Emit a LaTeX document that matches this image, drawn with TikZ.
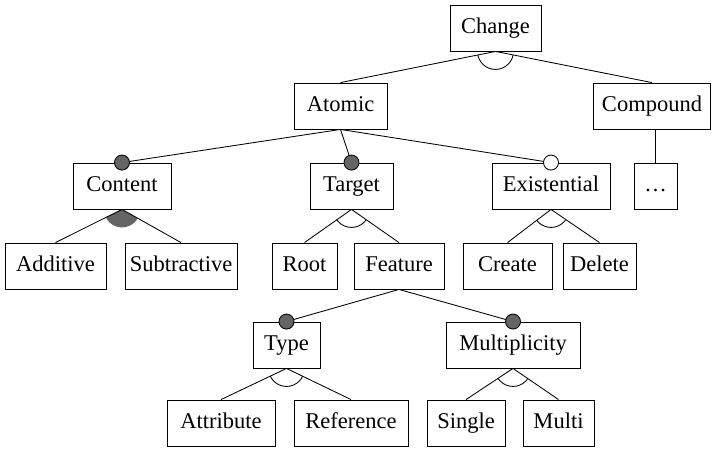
\documentclass[tikz,border=0pt]{standalone}
\usepackage{fontspec}
\setmainfont{Liberation Serif}
\definecolor{darkfill}{RGB}{100,100,100}
\begin{document}
\begin{tikzpicture}[x=1pt,y=-1pt,
  feat/.style={draw, line width=0.85pt, minimum height=46pt, inner sep=0pt, text height=15pt, text depth=5pt, font=\fontsize{22.5}{26}\selectfont},
  conn/.style={line width=0.85pt},
  mand/.style={draw, line width=0.85pt, fill=darkfill, circle, inner sep=0pt, minimum size=15pt},
  opt/.style={draw, line width=0.85pt, fill=white, circle, inner sep=0pt, minimum size=15pt}]
\useasboundingbox (0,0) rectangle (713,450);
% nodes
\node[feat, minimum width=91pt] (change) at (495.5,28) {Change};
\node[feat, minimum width=93pt] (atomic) at (340.5,106) {Atomic};
\node[feat, minimum width=117pt] (compound) at (652,106) {Compound};
\node[feat, minimum width=98pt] (content) at (122,186) {Content};
\node[feat, minimum width=83pt] (target) at (351.5,186) {Target};
\node[feat, minimum width=118pt] (exist) at (551,186) {Existential};
\node[feat, minimum width=43pt] (dots) at (655.5,186) {\dots};
\node[feat, minimum width=101pt] (additive) at (55.5,266) {Additive};
\node[feat, minimum width=112pt] (subtr) at (181,266) {Subtractive};
\node[feat, minimum width=65pt] (root) at (304.5,266) {Root};
\node[feat, minimum width=90pt] (feature) at (399,266) {Feature};
\node[feat, minimum width=89pt] (create) at (507.5,266) {Create};
\node[feat, minimum width=73pt] (delete) at (599.5,266) {Delete};
\node[feat, minimum width=67pt] (type) at (286.5,345) {Type};
\node[feat, minimum width=134pt] (mult) at (513,345) {Multiplicity};
\node[feat, minimum width=108pt] (attr) at (221,423) {Attribute};
\node[feat, minimum width=114pt] (ref) at (351,423) {Reference};
\node[feat, minimum width=78pt] (single) at (466,423) {Single};
\node[feat, minimum width=71pt] (multi) at (558.5,423) {Multi};
% group arcs
\foreach \p/\a/\b/\f in {change/atomic/compound/0, content/additive/subtr/1, target/root/feature/0, exist/create/delete/0, type/attr/ref/0, mult/single/multi/0}{
  \begin{scope}
    \clip (\p.south) -- (\a.north) -- (\b.north) -- cycle;
    \ifnum\f=1
      \fill[darkfill] (\p.south) circle (18pt);
    \else
      \draw[conn] (\p.south) circle (18pt);
    \fi
  \end{scope}
}
% connectors
\draw[conn] (change.south) -- (atomic.north);
\draw[conn] (change.south) -- (compound.north);
\draw[conn] (atomic.south) -- (content.north);
\draw[conn] (atomic.south) -- (target.north);
\draw[conn] (atomic.south) -- (exist.north);
\draw[conn] (dots.north |- compound.south) -- (dots.north);
\draw[conn] (content.south) -- (additive.north);
\draw[conn] (content.south) -- (subtr.north);
\draw[conn] (target.south) -- (root.north);
\draw[conn] (target.south) -- (feature.north);
\draw[conn] (exist.south) -- (create.north);
\draw[conn] (exist.south) -- (delete.north);
\draw[conn] (feature.south) -- (type.north);
\draw[conn] (feature.south) -- (mult.north);
\draw[conn] (type.south) -- (attr.north);
\draw[conn] (type.south) -- (ref.north);
\draw[conn] (mult.south) -- (single.north);
\draw[conn] (mult.south) -- (multi.north);
% mandatory / optional markers
\node[mand] (mc) at (content.north) {};
\node[mand] (mt) at (target.north) {};
\node[opt] (oe) at (exist.north) {};
\node[mand] (mty) at (type.north) {};
\node[mand] (mm) at (mult.north) {};
\end{tikzpicture}
\end{document}
